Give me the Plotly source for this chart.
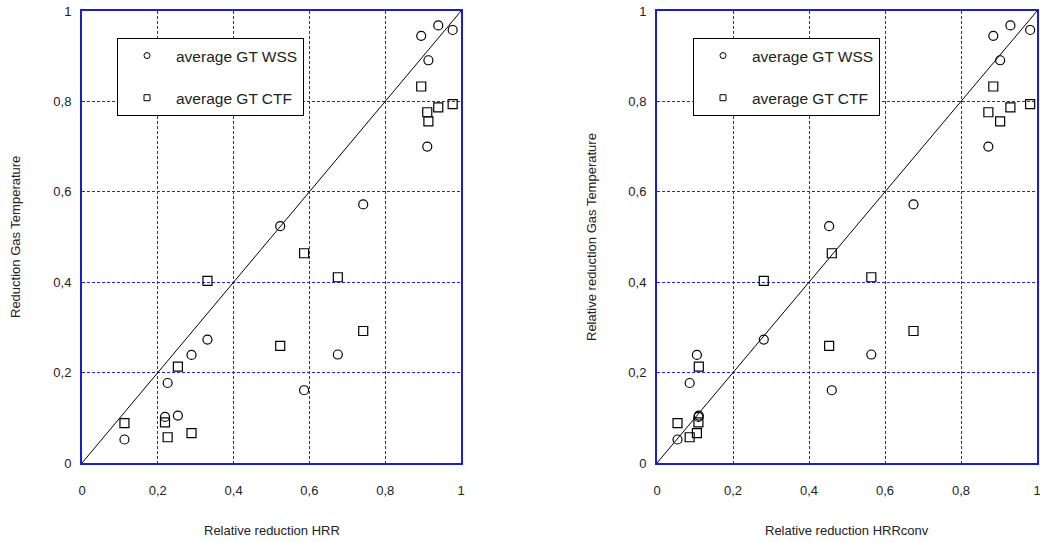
import plotly.graph_objects as go

# Data (one value per test)
hrr = [0.112, 0.219, 0.226, 0.253, 0.289, 0.331, 0.523, 0.586, 0.675, 0.742,
       0.895, 0.911, 0.914, 0.940, 0.978]
hrr_conv = [0.054, 0.109, 0.086, 0.110, 0.105, 0.281, 0.453, 0.460, 0.564, 0.675,
            0.885, 0.872, 0.903, 0.930, 0.982]
gt_wss = [0.052, 0.102, 0.177, 0.105, 0.239, 0.273, 0.524, 0.161, 0.240, 0.572,
          0.945, 0.700, 0.891, 0.968, 0.958]
gt_ctf = [0.088, 0.090, 0.057, 0.213, 0.066, 0.403, 0.259, 0.464, 0.411, 0.292,
          0.833, 0.776, 0.756, 0.787, 0.794]
identity = [0, 1]

tick_vals = [0, 0.2, 0.4, 0.6, 0.8, 1]
tick_text = ["0", "0,2", "0,4", "0,6", "0,8", "1"]

W, H = 1040, 542
FONT = "Liberation Sans, Arial, sans-serif"
TXT = "#222222"
GRID = "#2020ff"
FRAME = "#1c1cd0"


def px(x):
    return x / W


def py(y):
    return 1 - y / H


fig = go.Figure()

panels = [
    dict(x=hrr, xa="x", ya="y", legend="legend"),
    dict(x=hrr_conv, xa="x2", ya="y2", legend="legend2"),
]

for p in panels:
    fig.add_trace(go.Scatter(x=identity, y=identity, mode="lines",
                             line=dict(color="black", width=1),
                             xaxis=p["xa"], yaxis=p["ya"], showlegend=False,
                             hoverinfo="skip"))
    fig.add_trace(go.Scatter(x=p["x"], y=gt_wss, mode="markers",
                             marker=dict(symbol="circle-open", size=9,
                                         color="black", line=dict(width=1.2)),
                             xaxis=p["xa"], yaxis=p["ya"], showlegend=False,
                             name="average GT WSS"))
    fig.add_trace(go.Scatter(x=p["x"], y=gt_ctf, mode="markers",
                             marker=dict(symbol="square-open", size=9,
                                         color="black", line=dict(width=1.2)),
                             xaxis=p["xa"], yaxis=p["ya"], showlegend=False,
                             name="average GT CTF"))
    # legend entries (smaller symbols as in the reference)
    fig.add_trace(go.Scatter(x=[None], y=[None], mode="markers",
                             marker=dict(symbol="circle-open", size=6,
                                         color="black", line=dict(width=1)),
                             xaxis=p["xa"], yaxis=p["ya"], name="average GT WSS",
                             legend=p["legend"], legendgroup=p["legend"] + "a"))
    fig.add_trace(go.Scatter(x=[None], y=[None], mode="markers",
                             marker=dict(symbol="square-open", size=6,
                                         color="black", line=dict(width=1)),
                             xaxis=p["xa"], yaxis=p["ya"], name="average GT CTF",
                             legend=p["legend"], legendgroup=p["legend"] + "b"))

y_dom = [py(463), py(11)]
x1_dom = [px(82), px(461)]
x2_dom = [px(657), px(1037)]

axis_common = dict(range=[0, 1], tickvals=tick_vals, ticktext=tick_text,
                   showgrid=True, gridcolor=GRID, gridwidth=1, griddash="3px,2px",
                   showline=True, linecolor=FRAME, linewidth=2, mirror=True,
                   zeroline=False, ticks="", automargin=False,
                   ticklabeloverflow="allow",
                   tickfont=dict(family=FONT, size=13, color=TXT))

legend_common = dict(xanchor="left", yanchor="top",
                     bgcolor="white", bordercolor="black", borderwidth=1,
                     font=dict(family=FONT, size=15.5, color=TXT),
                     itemwidth=48, tracegroupgap=19, itemclick=False,
                     itemdoubleclick=False)

fig.update_layout(
    width=W, height=H,
    margin=dict(l=0, r=0, t=0, b=0, autoexpand=False),
    paper_bgcolor="white", plot_bgcolor="white",
    font=dict(family=FONT, color=TXT),
    xaxis=dict(domain=x1_dom, anchor="y", ticklabelstandoff=14, **axis_common),
    yaxis=dict(domain=y_dom, anchor="x", ticklabelstandoff=6, **axis_common),
    xaxis2=dict(domain=x2_dom, anchor="y2", ticklabelstandoff=14, **axis_common),
    yaxis2=dict(domain=y_dom, anchor="x2", ticklabelstandoff=6, **axis_common),
    legend=dict(x=px(117), y=py(38), **legend_common),
    legend2=dict(x=px(693), y=py(38), **legend_common),
    showlegend=True,
)

annots = [
    dict(text="Relative reduction HRR", x=px((82 + 461) / 2), y=py(530)),
    dict(text="Relative reduction HRRconv", x=px((657 + 1037) / 2), y=py(530)),
    dict(text="Reduction Gas Temperature", x=px(16), y=py(237), textangle=-90),
    dict(text="Relative reduction Gas Temperature", x=px(592), y=py(237), textangle=-90),
]
for a in annots:
    fig.add_annotation(xref="paper", yref="paper", showarrow=False,
                       xanchor="center", yanchor="middle",
                       font=dict(family=FONT, size=13, color=TXT), **a)

fig.write_html("out.html",
               config={"displayModeBar": False},
               post_script="document.body.style.margin='0';"
                           "document.body.style.overflow='hidden';")
